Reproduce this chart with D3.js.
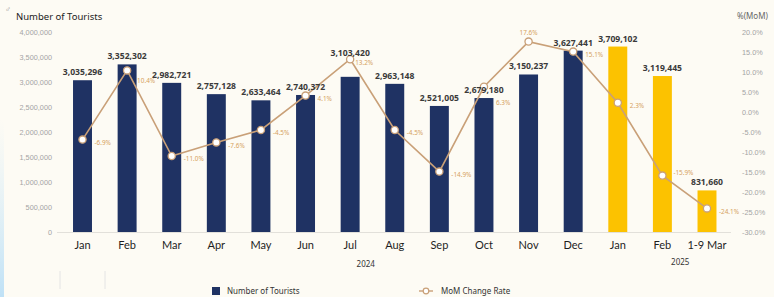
<!DOCTYPE html>
<html>
<head>
<meta charset="utf-8">
<script src="https://cdn.jsdelivr.net/npm/d3@7"></script>
<style>
  html, body { margin: 0; padding: 0; background: #fdfbf4; }
  svg { display: block; font-family: "Noto Sans", "Open Sans", sans-serif; }
</style>
</head>
<body>
<svg id="chart" width="774" height="297"></svg>
<script>
// ── Data ──────────────────────────────────────────────────────────────────────
const months   = ['Jan', 'Feb', 'Mar', 'Apr', 'May', 'Jun', 'Jul', 'Aug', 'Sep', 'Oct', 'Nov', 'Dec', 'Jan', 'Feb', '1-9 Mar'];
const years    = ['2024', '2024', '2024', '2024', '2024', '2024', '2024', '2024', '2024', '2024', '2024', '2024', '2025', '2025', '2025'];
const tourists = [3035296, 3352302, 2982721, 2757128, 2633464, 2740372, 3103420, 2963148, 2521005, 2679180, 3150237, 3627441, 3709102, 3119445, 831660];
const momRate  = [-6.9, 10.4, -11.0, -7.6, -4.5, 4.1, 13.2, -4.5, -14.9, 6.3, 17.6, 15.1, 2.3, -15.9, -24.1];
const leftTicks  = [0, 500000, 1000000, 1500000, 2000000, 2500000, 3000000, 3500000, 4000000];
const rightTicks = [20, 15, 10, 5, 0, -5, -10, -15, -20, -25, -30];

// ── Setup ─────────────────────────────────────────────────────────────────────
const NAVY = '#1f3263', GOLD = '#fcc200', LINE = '#c9a078', PCT = '#d6a25e';
const svg = d3.select('#chart');
const keys = months.map((m, i) => `${years[i]}-${m}`);

const x = d3.scaleBand().domain(keys).range([60.2, 729.3]).paddingInner(0.575).paddingOuter(0.2875);
const cx = k => x(k) + x.bandwidth() / 2;
const yL = d3.scaleLinear().domain([0, 4000000]).range([232, 32]);
const yR = d3.scaleLinear().domain([-30, 20]).range([232, 32]);

// faint left edge tint
const grad = svg.append('defs').append('linearGradient')
  .attr('id', 'edge').attr('x1', 0).attr('x2', 0).attr('y1', 0).attr('y2', 1);
grad.append('stop').attr('offset', '0%').attr('stop-color', '#d6ecf8').attr('stop-opacity', 0);
grad.append('stop').attr('offset', '100%').attr('stop-color', '#bfe1f6').attr('stop-opacity', 1);
svg.append('rect').attr('x', 0).attr('y', 120).attr('width', 4).attr('height', 177).attr('fill', 'url(#edge)');

// ── Axes ──────────────────────────────────────────────────────────────────────
const leftAxis = svg.append('g').attr('transform', 'translate(52,0)')
  .call(d3.axisLeft(yL).tickValues(leftTicks).tickFormat(d3.format(',')).tickSize(0).tickPadding(0));
const rightAxis = svg.append('g').attr('transform', 'translate(742,0)')
  .call(d3.axisRight(yR).tickValues(rightTicks).tickFormat(d => d.toFixed(1) + '%').tickSize(0).tickPadding(0));
[leftAxis, rightAxis].forEach(a => {
  a.select('.domain').remove();
  a.selectAll('text').attr('fill', '#a4a4a4').attr('font-size', 7.3);
});

svg.append('line').attr('x1', 57).attr('x2', 731).attr('y1', yL(0) + 0.5).attr('y2', yL(0) + 0.5)
  .attr('stroke', '#e2e0da').attr('stroke-width', 1);

const bottomAxis = svg.append('g').attr('transform', `translate(0,${yL(0)})`)
  .call(d3.axisBottom(x).tickFormat((d, i) => months[i]).tickSize(0).tickPadding(9));
bottomAxis.select('.domain').remove();
bottomAxis.selectAll('text').attr('fill', '#1e1e1e').attr('font-size', 11).attr('font-family', 'Lato, sans-serif');

// year group labels
const step = x.step(), x0 = cx(keys[0]);
[['2024', 6.35, 267], ['2025', 13.4, 265]].forEach(([t, at, yy]) => {
  svg.append('text').attr('x', x0 + at * step).attr('y', yy).attr('text-anchor', 'middle')
    .attr('font-size', 8).attr('fill', '#333').text(t);
});

// axis titles
svg.append('text').attr('x', 16).attr('y', 20).attr('font-size', 9.5).attr('fill', '#222').text('Number of Tourists');
svg.append('text').attr('x', 5).attr('y', 12).attr('font-size', 8).attr('fill', '#999').text('♂');
svg.append('text').attr('x', 737).attr('y', 19).attr('font-size', 8).attr('fill', '#666').text('%(MoM)');

// ── Bars ──────────────────────────────────────────────────────────────────────
svg.append('g').selectAll('rect')
  .data(tourists)
  .enter().append('rect')
    .attr('x', (d, i) => x(keys[i]))
    .attr('y', d => yL(d))
    .attr('width', x.bandwidth())
    .attr('height', d => yL(0) - yL(d))
    .attr('fill', (d, i) => years[i] === '2025' ? GOLD : NAVY);

// ── MoM line ─────────────────────────────────────────────────────────────────
const line = d3.line().x((d, i) => cx(keys[i])).y(d => yR(d));
svg.append('path').datum(momRate)
  .attr('d', line).attr('fill', 'none').attr('stroke', LINE).attr('stroke-width', 1.6);

svg.append('g').selectAll('circle')
  .data(momRate)
  .enter().append('circle')
    .attr('cx', (d, i) => cx(keys[i]))
    .attr('cy', d => yR(d))
    .attr('r', 3.6)
    .attr('fill', '#fff')
    .attr('stroke', LINE)
    .attr('stroke-width', 1.3);

// ── Value labels ─────────────────────────────────────────────────────────────
svg.append('g').selectAll('text')
  .data(tourists)
  .enter().append('text')
    .attr('x', (d, i) => cx(keys[i]))
    .attr('y', (d, i) => {
      const top = yL(d), m = yR(momRate[i]);
      // lift the label above a marker sitting just over the bar
      return (top - m > 12 && top - m < 25) ? m - 3 : top - 5;
    })
    .attr('text-anchor', 'middle')
    .attr('font-size', 8.6)
    .attr('font-weight', 'bold')
    .attr('fill', '#3a3a3a')
    .text(d => d3.format(',')(d));

// ── Percent labels ───────────────────────────────────────────────────────────
const pctNudge = {
  1: [10, 10, 'start'], 6: [5, 4, 'start'], 9: [12, 16, 'start'],
  10: [0, -9, 'middle'], 13: [11, -3, 'start']
};
svg.append('g').selectAll('text')
  .data(momRate)
  .enter().append('text')
    .attr('x', (d, i) => cx(keys[i]) + (pctNudge[i] ? pctNudge[i][0] : 12))
    .attr('y', (d, i) => yR(d) + (pctNudge[i] ? pctNudge[i][1] : 3) + 2.2)
    .attr('text-anchor', (d, i) => pctNudge[i] ? pctNudge[i][2] : 'start')
    .attr('font-size', 6.4)
    .attr('fill', PCT)
    .text(d => d.toFixed(1) + '%');

// ── Legend + leftover table rules ────────────────────────────────────────────
[60, 105].forEach(lx => svg.append('line').attr('x1', lx).attr('x2', lx).attr('y1', 271).attr('y2', 289)
  .attr('stroke', '#e4e4e4').attr('stroke-width', 1));

svg.append('rect').attr('x', 212).attr('y', 287).attr('width', 8).attr('height', 8).attr('fill', NAVY);
svg.append('text').attr('x', 227).attr('y', 294).attr('font-size', 8).attr('fill', '#333').text('Number of Tourists');
svg.append('line').attr('x1', 419).attr('x2', 433).attr('y1', 291).attr('y2', 291).attr('stroke', LINE).attr('stroke-width', 1.4);
svg.append('circle').attr('cx', 426).attr('cy', 291).attr('r', 2.8).attr('fill', '#fff').attr('stroke', LINE).attr('stroke-width', 1.2);
svg.append('text').attr('x', 441).attr('y', 294).attr('font-size', 8).attr('fill', '#333').text('MoM Change Rate');
</script>
</body>
</html>
